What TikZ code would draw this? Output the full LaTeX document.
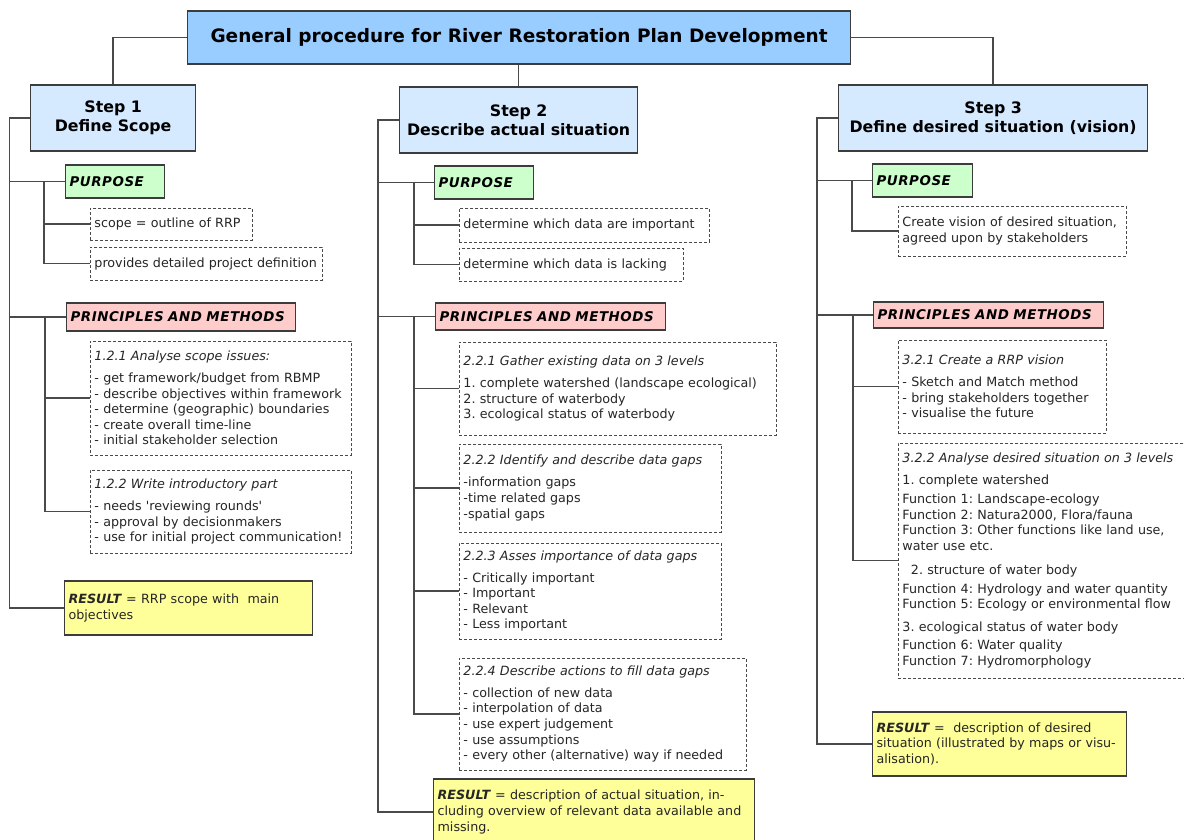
\documentclass[tikz,border=0pt]{standalone}
\usepackage{fontspec}
\setmainfont{DejaVu Sans}
\definecolor{titlefill}{HTML}{99CCFF}
\definecolor{stepfill}{HTML}{D5E9FF}
\definecolor{purposefill}{HTML}{CCFFCC}
\definecolor{princfill}{HTML}{FFCCCC}
\definecolor{resultfill}{HTML}{FFFF99}
\definecolor{edge}{HTML}{3C3C3C}
\definecolor{wire}{HTML}{4A4A4A}
\definecolor{ink}{HTML}{262626}
\newcommand{\bodysize}{\fontsize{12.7}{15.6}\selectfont\frenchspacing}
\newcommand{\labelfont}{\fontsize{13.4}{16}\selectfont\bfseries\itshape\addfontfeatures{LetterSpace=4}}
\newcommand{\hd}[1]{\textit{#1}\\[6.4pt]}
\tikzset{
  wh/.code 2 args={%
    \pgfmathsetmacro\boxw{#1}\pgfmathsetmacro\textw{#1-8}%
    \tikzset{minimum width=\boxw pt, text width=\textw pt, minimum height=#2pt}},
  base/.style={anchor=west, inner xsep=4pt, inner ysep=0pt, align=left,
    text=ink, font=\bodysize},
  solidbox/.style={base, draw=edge, line width=1.2pt},
  headbox/.style={anchor=west, draw=edge, line width=1.2pt, align=center,
    inner sep=0pt, text=black},
  titlebox/.style={headbox, fill=titlefill, font=\fontsize{18.5}{22}\selectfont\bfseries},
  stepbox/.style={headbox, fill=stepfill, font=\fontsize{15.8}{19}\selectfont\bfseries},
  purposebox/.style={solidbox, fill=purposefill, text=black, font=\labelfont},
  princbox/.style={solidbox, fill=princfill, text=black, font=\labelfont},
  resultbox/.style={solidbox, fill=resultfill},
  note/.style={base, draw=wire, line width=0.9pt, dash pattern=on 3pt off 2pt},
  wireline/.style={draw=wire, line width=1.3pt},
}
\begin{document}
\begin{tikzpicture}[x=1pt, y=-1pt]
\useasboundingbox (0,0) rectangle (1184,839);
\clip (0,0) rectangle (1184,839);
\fill[white] (0,0) rectangle (1184,839);

% ---------- title and the three steps ----------
\node[titlebox, minimum width=663pt, minimum height=53pt] (title) at (187,37.5)
  {General procedure for River Restoration Plan Development};
\node[stepbox, minimum width=165pt, minimum height=66pt] (s1) at (30,118)
  {Step 1\\Define Scope};
\node[stepbox, minimum width=238pt, minimum height=66pt] (s2) at (399,120)
  {Step 2\\Describe actual situation};
\node[stepbox, minimum width=309pt, minimum height=66pt] (s3) at (838,118)
  {Step 3\\Define desired situation (vision)};

% ---------- step 1 ----------
\node[purposebox, wh={99}{33}] (pu1) at (65,181.5) {PURPOSE};
\node[note, wh={162}{32}] (n1a) at (90,224) {scope = outline of RRP};
\node[note, wh={232}{33}] (n1b) at (90,263.5) {provides detailed project definition};
\node[princbox, wh={229}{28}] (pr1) at (66,317) {PRINCIPLES AND METHODS};
\node[note, wh={261}{114}] (n121) at (90,398)
  {\hd{1.2.1 Analyse scope issues:}%
   - get framework/budget from RBMP\\
   - describe objectives within framework\\
   - determine (geographic) boundaries\\
   - create overall time-line\\
   - initial stakeholder selection};
\node[note, wh={261}{83}] (n122) at (90,511.5)
  {\hd{1.2.2 Write introductory part}%
   - needs \textquotesingle reviewing rounds\textquotesingle\\
   - approval by decisionmakers\\
   - use for initial project communication!};
\node[resultbox, wh={248}{54}] (r1) at (64,608)
  {\textbf{\textit{RESULT}} = RRP scope with\ \ main\\objectives};

% ---------- step 2 ----------
\node[purposebox, wh={99}{33}] (pu2) at (434,182.5) {PURPOSE};
\node[note, wh={250}{34}] (n2a) at (459,225) {determine which data are important};
\node[note, wh={224}{33}] (n2b) at (459,264.5) {determine which data is lacking};
\node[princbox, wh={230}{27}] (pr2) at (435,316.5) {PRINCIPLES AND METHODS};
\node[note, wh={317}{93}] (n221) at (459,388.5)
  {\hd{2.2.1 Gather existing data on 3 levels}%
   1. complete watershed (landscape ecological)\\
   2. structure of waterbody\\
   3. ecological status of waterbody};
\node[note, wh={262}{88}] (n222) at (459,488)
  {\hd{2.2.2 Identify and describe data gaps}%
   -information gaps\\
   -time related gaps\\
   -spatial gaps};
\node[note, wh={262}{96}] (n223) at (459,591)
  {\hd{2.2.3 Asses importance of data gaps}%
   - Critically important\\
   - Important\\
   - Relevant\\
   - Less important};
\node[note, wh={287}{112}] (n224) at (459,714)
  {\hd{2.2.4 Describe actions to fill data gaps}%
   - collection of new data\\
   - interpolation of data\\
   - use expert judgement\\
   - use assumptions\\
   - every other (alternative) way if needed};
\node[resultbox, wh={321}{66}] (r2) at (433,812)
  {\textbf{\textit{RESULT}} = description of actual situation, in-\\
   cluding overview of relevant data available and\\
   missing.};

% ---------- step 3 ----------
\node[purposebox, wh={100}{33}] (pu3) at (872,180.5) {PURPOSE};
\node[note, wh={228}{50}] (n3a) at (898,231)
  {Create vision of desired situation,\\agreed upon by stakeholders};
\node[princbox, wh={230}{26}] (pr3) at (873,315) {PRINCIPLES AND METHODS};
\node[note, wh={208}{93}] (n321) at (898,386.5)
  {\hd{3.2.1 Create a RRP vision}%
   - Sketch and Match method\\
   - bring stakeholders together\\
   - visualise the future};
\node[note, wh={300}{235}] (n322) at (898,560.5)
  {\hd{3.2.2 Analyse desired situation on 3 levels}%
   1. complete watershed\\[3.4pt]
   Function 1: Landscape-ecology\\
   Function 2: Natura2000, Flora/fauna\\
   Function 3: Other functions like land use,\\
   water use etc.\\[8.4pt]
   \ \ 2. structure of water body\\[3.4pt]
   Function 4: Hydrology and water quantity\\
   Function 5: Ecology or environmental flow\\[7.4pt]
   3. ecological status of water body\\[2.4pt]
   Function 6: Water quality\\
   Function 7: Hydromorphology};
\node[resultbox, wh={254}{64}] (r3) at (872,744)
  {\textbf{\textit{RESULT}} =\ \ description of desired\\
   situation (illustrated by maps or visu-\\
   alisation).};

% ---------- connectors ----------
\coordinate (k1) at (9.5,0);
\coordinate (k1a) at (44,0);
\coordinate (k1b) at (45,0);
\coordinate (k2) at (378,0);
\coordinate (k2a) at (414,0);
\coordinate (k3) at (817,0);
\coordinate (k3a) at (852,0);
\coordinate (k3b) at (853,0);

\draw[wireline] (title.west) -| (s1.north);
\draw[wireline] (s2.north |- title.south) -- (s2.north);
\draw[wireline] (title.east) -| (s3.north);

% step 1 tree
\draw[wireline] (s1.west) -- (s1.west -| k1) |- (r1.west);
\draw[wireline] (pu1.west -| k1) -- (pu1.west);
\draw[wireline] (pr1.west -| k1) -- (pr1.west);
\draw[wireline] (pu1.west -| k1a) |- (n1b.west);
\draw[wireline] (n1a.west -| k1a) -- (n1a.west);
\draw[wireline] (pr1.west -| k1b) |- (n122.west);
\draw[wireline] (n121.west -| k1b) -- (n121.west);

% step 2 tree
\draw[wireline] (s2.west) -- (s2.west -| k2) |- (r2.west);
\draw[wireline] (pu2.west -| k2) -- (pu2.west);
\draw[wireline] (pr2.west -| k2) -- (pr2.west);
\draw[wireline] (pu2.west -| k2a) |- (n2b.west);
\draw[wireline] (n2a.west -| k2a) -- (n2a.west);
\draw[wireline] (pr2.west -| k2a) |- (n224.west);
\draw[wireline] (n221.west -| k2a) -- (n221.west);
\draw[wireline] (n222.west -| k2a) -- (n222.west);
\draw[wireline] (n223.west -| k2a) -- (n223.west);

% step 3 tree
\draw[wireline] (s3.west) -- (s3.west -| k3) |- (r3.west);
\draw[wireline] (pu3.west -| k3) -- (pu3.west);
\draw[wireline] (pr3.west -| k3) -- (pr3.west);
\draw[wireline] (pu3.west -| k3a) |- (n3a.west);
\draw[wireline] (pr3.west -| k3b) |- (n322.west);
\draw[wireline] (n321.west -| k3b) -- (n321.west);
\end{tikzpicture}
\end{document}
